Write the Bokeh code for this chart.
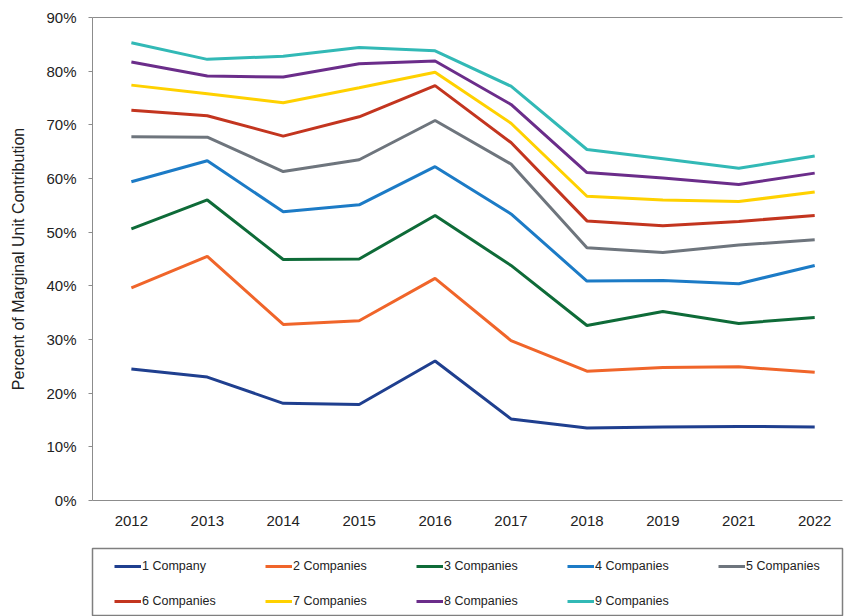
from bokeh.plotting import figure
from bokeh.layouts import column
from bokeh.models import (Range1d, FixedTicker, NumeralTickFormatter,
                          Legend, LegendItem, LinearAxis)
from bokeh.embed import file_html
from bokeh.resources import INLINE

years = ["2012", "2013", "2014", "2015", "2016", "2017", "2018", "2019", "2021", "2022"]

c1 = [24.5, 23.0, 18.1, 17.9, 26.0, 15.2, 13.5, 13.7, 13.8, 13.7]
c2 = [39.6, 45.5, 32.8, 33.5, 41.4, 29.8, 24.1, 24.8, 24.9, 23.9]
c3 = [50.6, 56.0, 44.9, 45.0, 53.1, 43.8, 32.6, 35.2, 33.0, 34.1]
c4 = [59.4, 63.3, 53.8, 55.1, 62.2, 53.4, 40.9, 41.0, 40.4, 43.8]
c5 = [67.8, 67.7, 61.3, 63.5, 70.8, 62.7, 47.1, 46.2, 47.6, 48.6]
c6 = [72.7, 71.7, 67.9, 71.5, 77.3, 66.7, 52.1, 51.2, 52.0, 53.1]
c7 = [77.4, 75.8, 74.1, 76.9, 79.8, 70.3, 56.7, 56.0, 55.7, 57.5]
c8 = [81.7, 79.1, 78.9, 81.4, 81.9, 73.8, 61.1, 60.1, 58.9, 61.0]
c9 = [85.3, 82.2, 82.8, 84.4, 83.8, 77.2, 65.4, 63.7, 61.9, 64.2]

series_names = ["1 Company", "2 Companies", "3 Companies", "4 Companies", "5 Companies",
                "6 Companies", "7 Companies", "8 Companies", "9 Companies"]
series_values = [c1, c2, c3, c4, c5, c6, c7, c8, c9]
colors = ["#1F3F8F", "#F0652A", "#0E6B38", "#1C7BC6", "#6E757D",
          "#C3351F", "#FFD100", "#6B2D8A", "#32B9B6"]

y_ticks = [0, 0.1, 0.2, 0.3, 0.4, 0.5, 0.6, 0.7, 0.8, 0.9]

FONT = "Liberation Sans"
TEXT = "#222222"
AXIS = "#8C8C8C"

xs = list(range(len(years)))

# ---------------- main chart ----------------
p = figure(width=845, height=535, output_backend="svg", toolbar_location=None,
           x_range=Range1d(-0.512, 9.366), y_range=Range1d(0, 0.9),
           min_border_left=92, min_border_top=17, min_border_right=0,
           min_border_bottom=35)
p.outline_line_color = None
p.grid.grid_line_color = None
p.background_fill_color = "white"
p.border_fill_color = "white"

ya = p.yaxis[0]
ya.ticker = FixedTicker(ticks=y_ticks)
ya.formatter = NumeralTickFormatter(format="0%")
ya.axis_line_color = AXIS
ya.major_tick_line_color = AXIS
ya.major_tick_out = 4
ya.major_tick_in = 0
ya.minor_tick_line_color = None
ya.major_label_text_font = FONT
ya.major_label_text_font_size = "15px"
ya.major_label_text_color = TEXT
ya.major_label_standoff = 12
ya.axis_label = "Percent of Marginal Unit Contribution"
ya.axis_label_text_font = FONT
ya.axis_label_text_font_style = "normal"
ya.axis_label_text_font_size = "16px"
ya.axis_label_text_color = TEXT
ya.axis_label_standoff = 16

xa = p.xaxis[0]
xa.ticker = FixedTicker(ticks=xs)
xa.major_label_overrides = {i: y for i, y in enumerate(years)}
xa.axis_line_color = AXIS
xa.major_tick_line_color = None
xa.major_tick_out = 0
xa.major_tick_in = 0
xa.minor_tick_line_color = None
xa.major_label_text_font = FONT
xa.major_label_text_font_size = "15px"
xa.major_label_text_color = TEXT
xa.major_label_standoff = 15

# top frame line (the chart's frame top edge)
top = LinearAxis(axis_line_color=AXIS, major_tick_line_color=None,
                 minor_tick_line_color=None, major_label_text_font_size="0px",
                 major_label_standoff=0, major_tick_out=0, major_tick_in=0,
                 ticker=FixedTicker(ticks=[]))
p.add_layout(top, "above")

for name, vals, col in zip(series_names, series_values, colors):
    p.line(xs, [v / 100 for v in vals], line_color=col, line_width=3)

# ---------------- legend panel ----------------
# same series drawn again, but outside this panel's visible range, so only
# their legend swatches show
lf = figure(width=845, height=81, output_backend="svg", toolbar_location=None,
            x_range=Range1d(0, 1), y_range=Range1d(500, 501),
            x_axis_location=None, y_axis_location=None,
            min_border_left=90, min_border_right=3, min_border_top=13,
            min_border_bottom=0)
lf.grid.grid_line_color = None
lf.outline_line_color = "#7F7F7F"
lf.outline_line_width = 1.5
lf.background_fill_color = "white"
lf.border_fill_color = "white"

items = []
for name, vals, col in zip(series_names, series_values, colors):
    r = lf.line(xs, vals, line_color=col, line_width=3)
    items.append(LegendItem(label=name, renderers=[r]))

legend = Legend(items=items, orientation="horizontal", nrows=2,
                location=(22, 6), margin=0, padding=5, spacing=17,
                glyph_width=27, glyph_height=18, label_height=18,
                label_standoff=1, label_width=106,
                label_text_font=FONT, label_text_font_size="12.5px",
                label_text_color=TEXT,
                border_line_color=None, background_fill_alpha=0)
lf.add_layout(legend, "center")

layout = column(p, lf, spacing=0)
open("out.html", "w").write(file_html(layout, INLINE))
